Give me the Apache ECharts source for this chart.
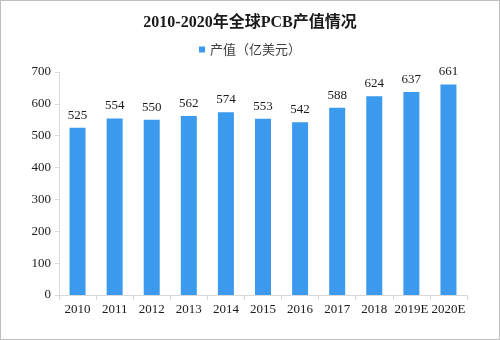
<!DOCTYPE html>
<html><head><meta charset="utf-8">
<script src="https://cdn.jsdelivr.net/npm/echarts@6/dist/echarts.min.js"></script>
<style>html,body{margin:0;padding:0;background:#fff}#c{width:500px;height:340px;box-sizing:border-box;border:1px solid #bfbfbf}</style>
</head><body><div id="c"></div>
<script>
const categories = ['2010','2011','2012','2013','2014','2015','2016','2017','2018','2019E','2020E'];
const values = [525,554,550,562,574,553,542,588,624,637,661];
const yTicks = {min:0, max:700, interval:100};
const chart = echarts.init(document.getElementById('c'));
const numFont = '"Liberation Serif","DejaVu Serif",serif';
chart.setOption({
  animation:false,
  title:{text:'2010-2020年全球PCB产值情况',left:'center',top:9,
    textStyle:{fontSize:16,fontWeight:'bold',color:'#1a1a1a',fontFamily:'"Liberation Serif","Noto Sans CJK SC",serif'}},
  legend:{top:37,left:'center',itemWidth:6,itemHeight:6,icon:'rect',itemGap:4,
    textStyle:{fontSize:13,color:'#404040',fontFamily:'"Noto Sans CJK SC",sans-serif'},data:['产值（亿美元）']},
  grid:{left:58,right:32,top:71,bottom:44},
  xAxis:{type:'category',data:categories,
    axisLine:{lineStyle:{color:'#d9d9d9'}},
    axisTick:{show:true,length:5,lineStyle:{color:'#d9d9d9'}},
    axisLabel:{interval:0,color:'#1a1a1a',fontSize:13,fontFamily:numFont,margin:8}},
  yAxis:{type:'value',min:yTicks.min,max:yTicks.max,interval:yTicks.interval,
    axisLine:{show:true,lineStyle:{color:'#d9d9d9'}},
    axisTick:{show:true,length:4,lineStyle:{color:'#d9d9d9'}},
    splitLine:{show:false},
    axisLabel:{color:'#1a1a1a',fontSize:13,fontFamily:numFont,margin:8}},
  series:[{name:'产值（亿美元）',type:'bar',data:values,barWidth:16,
    itemStyle:{color:'#3c9aee'},
    label:{show:true,position:'top',distance:6,color:'#1a1a1a',fontSize:13,fontFamily:numFont}}]
});
</script></body></html>
